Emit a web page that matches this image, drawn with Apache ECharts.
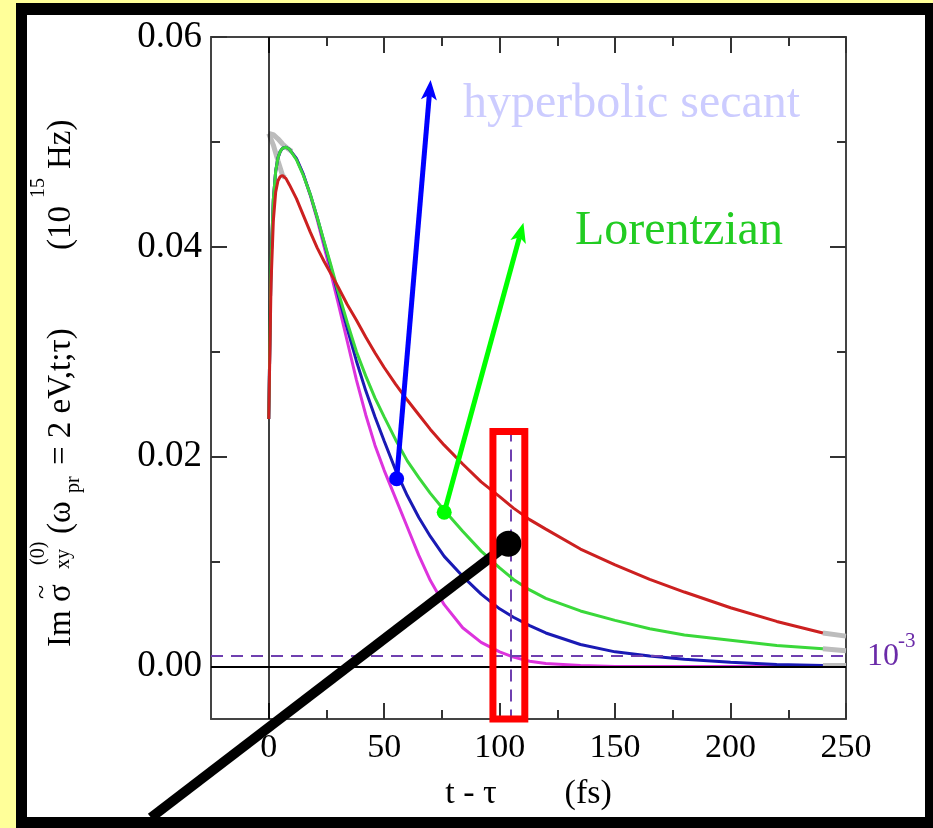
<!DOCTYPE html>
<html>
<head>
<meta charset="utf-8">
<script src="https://cdn.jsdelivr.net/npm/echarts@6/dist/echarts.min.js"></script>
<style>
  html, body { margin: 0; padding: 0; background: #ffff99; }
  #main { width: 933px; height: 828px; }
</style>
</head>
<body>
<div id="main"></div>
<script>
// time grid (fs) shared by the four coloured curves
const tGrid = [0, 1, 2, 3, 4, 5, 6, 7.5, 9, 12, 15, 18, 21, 24, 27, 30, 34, 38, 42, 46, 50, 55, 60, 65, 70, 76, 84, 92, 100, 106, 113, 120, 135, 150, 165, 180, 200, 220, 240];

const redVals = [0.0236, 0.0365, 0.0425, 0.0452, 0.0463, 0.0467, 0.0468, 0.0465, 0.0459, 0.0446, 0.0430, 0.0414, 0.0399, 0.0386, 0.0374, 0.0362, 0.0345, 0.0330, 0.0314, 0.0299, 0.0285, 0.0269, 0.0254, 0.0240, 0.0226, 0.0211, 0.0193, 0.0176, 0.0162, 0.0151, 0.0140, 0.0131, 0.0112, 0.0097, 0.0083, 0.0071, 0.0056, 0.0043, 0.0032];
const greenVals = [0.0236, 0.0385, 0.0445, 0.0472, 0.0485, 0.0491, 0.0494, 0.0495, 0.0493, 0.0483, 0.0468, 0.0450, 0.0428, 0.0405, 0.0382, 0.0358, 0.0328, 0.0300, 0.0277, 0.0256, 0.0238, 0.0216, 0.0196, 0.0180, 0.0165, 0.0149, 0.0129, 0.0110, 0.0094, 0.0083, 0.0073, 0.0065, 0.0053, 0.0044, 0.0036, 0.0030, 0.0025, 0.0020, 0.0017];
const blueVals = [0.0236, 0.0385, 0.0445, 0.0472, 0.0485, 0.0491, 0.0494, 0.0495, 0.0493, 0.0484, 0.0469, 0.0450, 0.0428, 0.0404, 0.0380, 0.0355, 0.0322, 0.0291, 0.0263, 0.0238, 0.0215, 0.0187, 0.0163, 0.0142, 0.0124, 0.0105, 0.0086, 0.0069, 0.0055, 0.0047, 0.0039, 0.0032, 0.0021, 0.0014, 0.0010, 0.0007, 0.0004, 0.0002, 0.0001];
const magentaVals = [0.0236, 0.0385, 0.0445, 0.0472, 0.0485, 0.0491, 0.0494, 0.0495, 0.0493, 0.0484, 0.0469, 0.0449, 0.0426, 0.0400, 0.0374, 0.0347, 0.0310, 0.0273, 0.0240, 0.0211, 0.0187, 0.0160, 0.0133, 0.0106, 0.0082, 0.0059, 0.0037, 0.0023, 0.0014, 0.0009, 0.0005, 0.0003, 0.0001, 0.0000, 0.0000, 0.0000, 0.0000, 0.0000, 0.0000];

// grey reference curves: only visible where they leave the coloured ones
// (no rise at t=0) and beyond 240 fs where they run on to 250 fs
const grayHeadT = [0, 2, 4, 6, 8, 10];
const grayHeadVals = [0.0508, 0.0507, 0.0503, 0.0498, 0.0494, 0.0491];
const grayHeadRedT = [0, 2, 4, 6, 7];
const grayHeadRedVals = [0.0508, 0.0497, 0.0482, 0.0468, 0.0466];
const tailT = [240, 250];
const redTail = [0.0032, 0.0029];
const greenTail = [0.0017, 0.0015];
const blueTail = [0.0001, 0.0001];

const xMajor = [0, 50, 100, 150, 200, 250];
const xMinor = [25, 75, 125, 175, 225];
const yMajor = [0, 0.02, 0.04, 0.06];
const yMinor = [0.01, 0.03, 0.05];

// annotation anchors (data coords)
const blueArrow = [[55.4, 0.0179], [70.1, 0.0559]];
const greenArrow = [[76, 0.0147], [110.3, 0.0423]];
const blackPointer = [[103.8, 0.0117], [-51, -0.0144]];
const redBox = [[97.1, 0.0224], [110.9, -0.005]];
const markT = 104.7;      // vertical dashed marker
const threshold = 0.001;  // 10^-3 level

const FONT = "'Liberation Serif', 'Times New Roman', serif";

const pairs = (ts, vs) => ts.map((t, i) => [t, vs[i]]);

const grayLine = (data) => ({
  type: 'line', data, showSymbol: false, smooth: false,
  lineStyle: { color: '#bcbcbc', width: 5 }, z: 2, silent: true,
});
const curve = (vals, color, z) => ({
  type: 'line', data: pairs(tGrid, vals), showSymbol: false, smooth: false,
  lineStyle: { color, width: 3 }, z, silent: true,
});

const axisLine = { show: true, onZero: false, lineStyle: { color: '#444', width: 2 } };
const noLine = { show: false, onZero: false };
const tickStyle = { color: '#333', width: 2 };
const xBase = { type: 'value', min: -25, max: 250, splitLine: { show: false } };
const yBase = { type: 'value', min: -0.005, max: 0.06, splitLine: { show: false } };
const purpleDash = { color: '#6f3fb0', width: 2, type: [12, 8] };

const option = {
  animation: false,
  backgroundColor: '#ffff99',
  grid: { left: 211, top: 37, right: 87, bottom: 109, containLabel: false },
  xAxis: [
    { ...xBase, position: 'bottom', axisLine,
      axisTick: { inside: true, length: 16, customValues: xMajor, lineStyle: tickStyle },
      axisLabel: { customValues: xMajor, color: '#000', fontFamily: FONT, fontSize: 34, margin: 12 },
      name: 't - τ        (fs)', nameLocation: 'middle', nameGap: 58,
      nameTextStyle: { color: '#000', fontFamily: FONT, fontSize: 34 } },
    { ...xBase, position: 'bottom', axisLine: noLine,
      axisTick: { inside: true, length: 9, customValues: xMinor, lineStyle: tickStyle },
      axisLabel: { show: false } },
    { ...xBase, position: 'top', axisLine,
      axisTick: { inside: true, length: 16, customValues: xMajor, lineStyle: tickStyle },
      axisLabel: { show: false } },
    { ...xBase, position: 'top', axisLine: noLine,
      axisTick: { inside: true, length: 9, customValues: xMinor, lineStyle: tickStyle },
      axisLabel: { show: false } },
  ],
  yAxis: [
    { ...yBase, position: 'left', axisLine,
      axisTick: { inside: true, length: 16, customValues: yMajor, lineStyle: tickStyle },
      axisLabel: { customValues: yMajor, color: '#000', fontFamily: FONT, fontSize: 37, margin: 9,
        formatter: (v) => v.toFixed(2) } },
    { ...yBase, position: 'left', axisLine: noLine,
      axisTick: { inside: true, length: 9, customValues: yMinor, lineStyle: tickStyle },
      axisLabel: { show: false } },
    { ...yBase, position: 'right', axisLine,
      axisTick: { inside: true, length: 16, customValues: yMajor, lineStyle: tickStyle },
      axisLabel: { show: false } },
    { ...yBase, position: 'right', axisLine: noLine,
      axisTick: { inside: true, length: 9, customValues: yMinor, lineStyle: tickStyle },
      axisLabel: { show: false } },
  ],
  series: [
    {
      // zero lines and purple markers
      type: 'line', data: [[0, 0]], showSymbol: false, lineStyle: { width: 0 }, z: 1, silent: true,
      markLine: {
        silent: true, symbol: 'none', label: { show: false }, animation: false,
        data: [
          [{ coord: [0, -0.005], lineStyle: { color: '#000', width: 1.5, type: 'solid' } }, { coord: [0, 0.06] }],
          [{ coord: [-25, 0], lineStyle: { color: '#000', width: 2, type: 'solid' } }, { coord: [250, 0] }],
          [{ coord: [-25, threshold], lineStyle: purpleDash }, { coord: [250, threshold] }],
          [{ coord: [markT, redBox[0][1] + 0.0002], lineStyle: purpleDash }, { coord: [markT, -0.005] }],
        ],
      },
    },
    grayLine(pairs(grayHeadRedT, grayHeadRedVals)),
    grayLine(pairs(grayHeadT, grayHeadVals)),
    grayLine(pairs(tailT, redTail)),
    grayLine(pairs(tailT, greenTail)),
    grayLine(pairs(tailT, blueTail)),
    curve(magentaVals, '#dd33dd', 3),
    curve(blueVals, '#1a1ab4', 4),
    curve(greenVals, '#3ad83a', 5),
    curve(redVals, '#cc2020', 6),
  ],
};

const chart = echarts.init(document.getElementById('main'), null, { renderer: 'canvas' });
chart.setOption(option);

const px = (p) => chart.convertToPixel({ seriesIndex: 1 }, p);

function arrow(from, to, color, width, dotR, headLen, headHalf) {
  const a = px(from), b = px(to);
  const dx = b[0] - a[0], dy = b[1] - a[1];
  const len = Math.hypot(dx, dy);
  const ux = dx / len, uy = dy / len, nx = -uy, ny = ux;
  const base = [b[0] - ux * headLen, b[1] - uy * headLen];
  const notch = [b[0] - ux * headLen * 0.75, b[1] - uy * headLen * 0.75];
  return [
    { type: 'line', z: 20, silent: true,
      shape: { x1: a[0], y1: a[1], x2: notch[0], y2: notch[1] },
      style: { stroke: color, lineWidth: width } },
    { type: 'polygon', z: 21, silent: true,
      shape: { points: [b, [base[0] + nx * headHalf, base[1] + ny * headHalf], notch,
        [base[0] - nx * headHalf, base[1] - ny * headHalf]] },
      style: { fill: color } },
    { type: 'circle', z: 21, silent: true, shape: { cx: a[0], cy: a[1], r: dotR }, style: { fill: color } },
  ];
}

const pA = px(blackPointer[0]), pB = px(blackPointer[1]);
const r0 = px(redBox[0]), r1 = px(redBox[1]);

const sub = { fontFamily: FONT, fontSize: 20, fill: '#000', verticalAlign: 'middle', align: 'left' };
const main = { fontFamily: FONT, fontSize: 33, fill: '#000', verticalAlign: 'middle', align: 'left' };
const tilde = { fontFamily: FONT, fontSize: 26, fill: '#000', verticalAlign: 'middle', align: 'left' };
// y title pieces: [text, position along the title, offset across it, style]
const yTitle = [
  ['Im', 0, -11, main],
  ['σ', 45, -11, main],
  ['~', 48, -30, tilde],
  ['(0)', 82, -33, sub],
  ['xy', 78, -8, sub],
  ['(ω', 113, -11, main],
  ['pr', 154, 2, sub],
  ['= 2 eV,t;τ)', 182, -11, main],
  ['(10', 397, -11, main],
  ['15', 449, -33, sub],
  ['Hz)', 478, -11, main],
];

chart.setOption({
  graphic: [
    { type: 'rect', z: -100, silent: true, shape: { x: 16, y: 3, width: 930, height: 840 }, style: { fill: '#000' } },
    { type: 'rect', z: -99, silent: true, shape: { x: 27, y: 15, width: 898, height: 802 }, style: { fill: '#fff' } },
    {
      type: 'group', x: 72, y: 647, rotation: Math.PI / 2, silent: true,
      children: yTitle.map(([text, lx, ly, st]) => ({
        type: 'text', x: lx, y: ly, style: { text, ...st },
      })),
    },
    { type: 'text', x: 463, y: 104, silent: true,
      style: { text: 'hyperbolic secant', fontFamily: FONT, fontSize: 48, fill: '#ccccff', verticalAlign: 'middle' } },
    { type: 'text', x: 575, y: 231, silent: true,
      style: { text: 'Lorentzian', fontFamily: FONT, fontSize: 48, fill: '#22cc22', verticalAlign: 'middle' } },
    { type: 'text', x: 867, y: 657, silent: true,
      style: { text: '10', fontFamily: FONT, fontSize: 32, fill: '#6a2aa8', verticalAlign: 'middle' } },
    { type: 'text', x: 898, y: 641, silent: true,
      style: { text: '-3', fontFamily: FONT, fontSize: 21, fill: '#6a2aa8', verticalAlign: 'middle' } },
    ...arrow(blueArrow[0], blueArrow[1], '#0000ff', 5, 7.5, 20, 8),
    ...arrow(greenArrow[0], greenArrow[1], '#00ff00', 5, 7.5, 20, 8),
    { type: 'line', z: 22, silent: true,
      shape: { x1: pA[0], y1: pA[1], x2: pB[0], y2: pB[1] },
      style: { stroke: '#000', lineWidth: 10 } },
    { type: 'circle', z: 23, silent: true, shape: { cx: pA[0], cy: pA[1], r: 13 }, style: { fill: '#000' } },
    { type: 'rect', z: 24, silent: true,
      shape: { x: r0[0], y: r0[1], width: r1[0] - r0[0], height: r1[1] - r0[1] },
      style: { fill: null, stroke: '#ff0000', lineWidth: 7 } },
  ],
});
</script>
</body>
</html>
